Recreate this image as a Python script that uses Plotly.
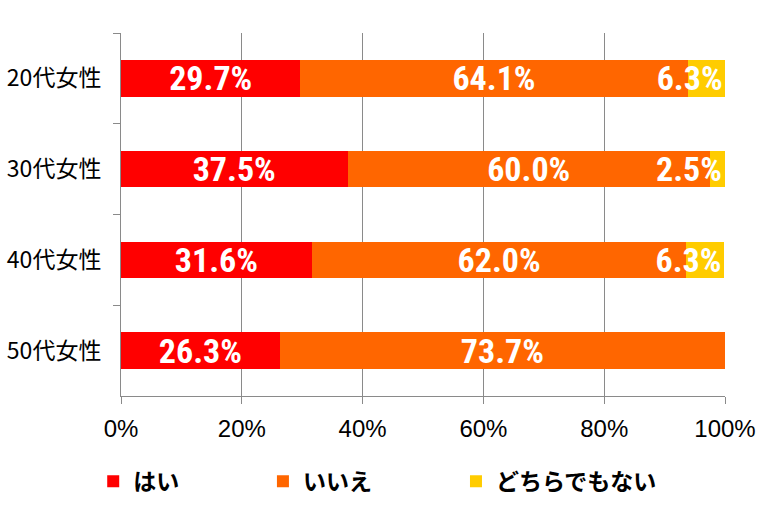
import plotly.graph_objects as go

categories = ["20代女性", "30代女性", "40代女性", "50代女性"]
series_names = ["はい", "いいえ", "どちらでもない"]
yes_vals = [29.7, 37.5, 31.6, 26.3]
no_vals = [64.1, 60.0, 62.0, 73.7]
neither_vals = [6.3, 2.5, 6.3, 0.0]
x_ticks = [0, 20, 40, 60, 80, 100]

colors = ["#FF0000", "#FF6600", "#FFCC00"]
anchors = ["middle", "middle", "end"]
legends = ["legend", "legend2", "legend3"]

label_font = dict(family="Roboto Condensed, Liberation Sans, sans-serif",
                  size=34, color="white", weight="bold")

fig = go.Figure()
for name, vals, col, anc, lg in zip(series_names, [yes_vals, no_vals, neither_vals], colors, anchors, legends):
    fig.add_trace(go.Bar(
        y=categories, x=vals, name=name, orientation="h",
        marker=dict(color=col, line=dict(width=0)),
        text=[f"{v:.1f}%" if v > 0 else "" for v in vals],
        textposition="inside", insidetextanchor=anc, textangle=0,
        constraintext="none", textfont=label_font,
        width=0.4, legend=lg, hoverinfo="skip",
    ))

legend_font = dict(family="Noto Sans CJK JP, sans-serif", size=23, color="black", weight="bold")
leg_common = dict(orientation="h", xanchor="left", yanchor="middle", y=-0.235,
                  font=legend_font, bgcolor="rgba(0,0,0,0)", borderwidth=0)

fig.update_layout(
    width=766, height=517,
    margin=dict(l=121, r=41, t=33, b=121, autoexpand=False),
    paper_bgcolor="white", plot_bgcolor="white",
    barmode="stack",
    showlegend=True,
    legend=dict(x=-0.046, **leg_common),
    legend2=dict(x=0.235, **leg_common),
    legend3=dict(x=0.5546, **leg_common),
    xaxis=dict(
        range=[0, 100], tickvals=x_ticks, ticktext=[f"{t}%" for t in x_ticks],
        showgrid=True, gridcolor="#8a8a8a", gridwidth=1,
        showline=True, linecolor="#8a8a8a", linewidth=1,
        ticks="outside", ticklen=7, tickcolor="#8a8a8a",
        tickfont=dict(family="Liberation Sans, Arial, sans-serif", size=24, color="black"),
        ticklabelstandoff=4, zeroline=False, fixedrange=True,
    ),
    yaxis=dict(
        categoryorder="array", categoryarray=categories, autorange="reversed",
        showline=True, linecolor="#8a8a8a", linewidth=1,
        ticks="outside", ticklen=7, tickcolor="#8a8a8a", tickson="boundaries",
        showgrid=False,
        tickfont=dict(family="Noto Sans CJK JP, sans-serif", size=23, color="black"),
        ticklabelstandoff=14, fixedrange=True,
    ),
)
fig.write_html("out.html")
